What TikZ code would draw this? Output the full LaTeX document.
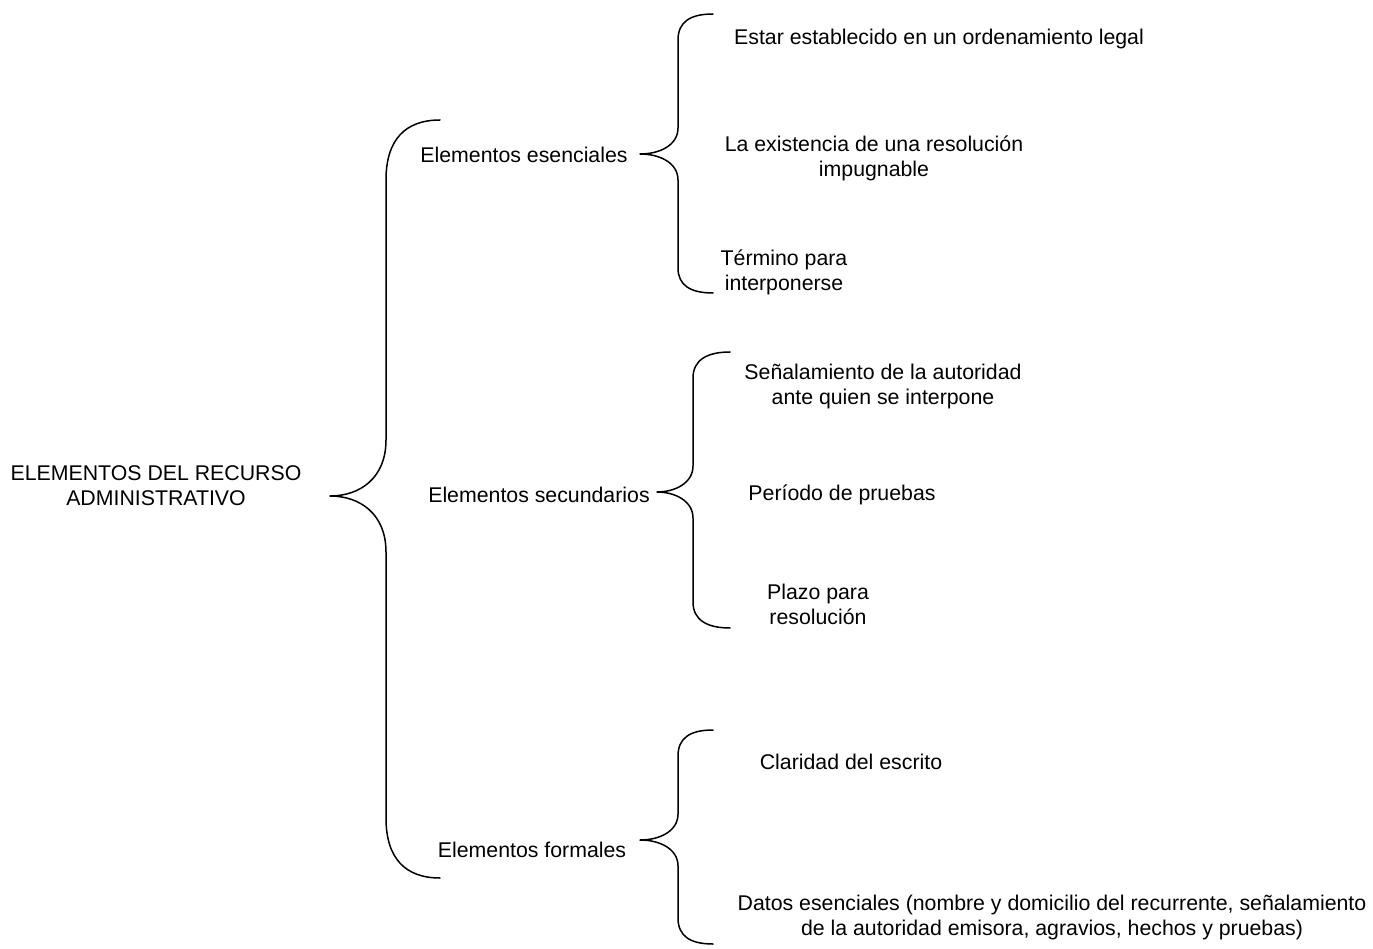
\documentclass[tikz,border=0pt]{standalone}
\usepackage{fontspec}
\setmainfont{Liberation Sans}
\begin{document}
\begin{tikzpicture}[x=1pt,y=-1pt,
  lbl/.style={inner sep=0pt,align=center,yshift=-2pt,font=\fontsize{21.3}{25}\selectfont},
  brc/.style={draw=black,line width=1.5pt,line join=round,line cap=round}]
\useasboundingbox (0,0) rectangle (1373,949);
% texts
\node[lbl] (root) at (156,484) {ELEMENTOS DEL RECURSO\\ADMINISTRATIVO};
\node[lbl] (ese) at (524,153) {Elementos esenciales};
\node[lbl] (sec) at (539,493) {Elementos secundarios};
\node[lbl] (for) at (532,848) {Elementos formales};
\node[lbl] (e1) at (939,37) {Estar establecido en un ordenamiento legal};
\node[lbl] (e2) at (874,156) {La existencia de una resolución\\impugnable};
\node[lbl] (e3) at (784,270) {Término para\\interponerse};
\node[lbl] (s1) at (883,384) {Señalamiento de la autoridad\\ante quien se interpone};
\node[lbl] (s2) at (842,493) {Período de pruebas};
\node[lbl] (s3) at (818,602) {Plazo para\\resolución};
\node[lbl] (f1) at (851,760) {Claridad del escrito};
\node[lbl] (f2) at (1052,915) {Datos esenciales (nombre y domicilio del recurrente, señalamiento\\de la autoridad emisora, agravios, hechos y pruebas)};
% big brace
\draw[brc] (440,120) .. controls (405,120) and (386,140) .. (386,180) -- (386,440)
  .. controls (386,478) and (360,496) .. (330,496)
  .. controls (360,496) and (386,514) .. (386,552) -- (386,818)
  .. controls (386,858) and (405,878) .. (440,878);
% brace esenciales
\draw[brc] (713,14) .. controls (690,14) and (678,22) .. (678,40) -- (678,128)
  .. controls (678,145) and (660,154) .. (640,154)
  .. controls (660,154) and (678,163) .. (678,180) -- (678,268)
  .. controls (678,285) and (690,293) .. (713,293);
% brace secundarios
\draw[brc] (730,352) .. controls (707,352) and (693,360) .. (693,378) -- (693,466)
  .. controls (693,483) and (675,492) .. (657,492)
  .. controls (675,492) and (693,501) .. (693,518) -- (693,602)
  .. controls (693,620) and (707,628) .. (730,628);
% brace formales
\draw[brc] (713,730) .. controls (690,730) and (678,738) .. (678,756) -- (678,814)
  .. controls (678,831) and (660,840) .. (640,840)
  .. controls (660,840) and (678,849) .. (678,866) -- (678,918)
  .. controls (678,936) and (690,944) .. (713,944);
\end{tikzpicture}
\end{document}
